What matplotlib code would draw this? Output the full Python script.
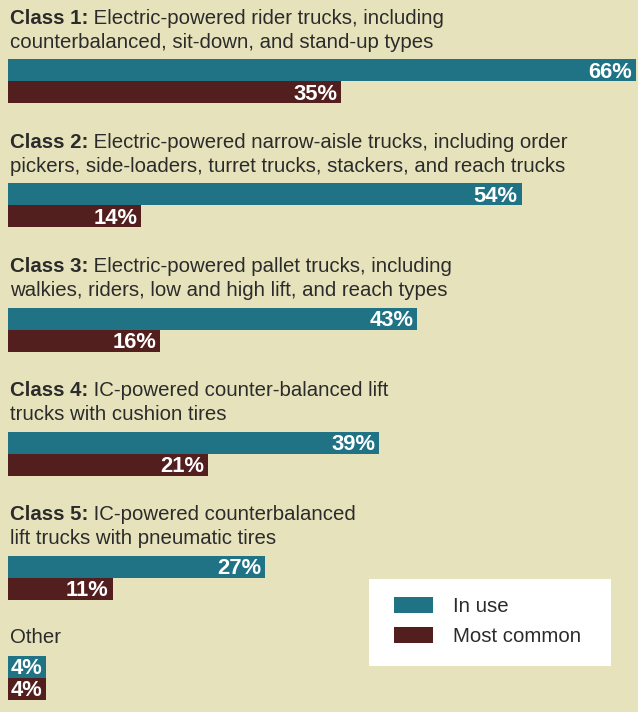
import matplotlib
matplotlib.use("Agg")
import matplotlib.pyplot as plt
from matplotlib.patches import Rectangle

categories_bold = ["Class 1:", "Class 2:", "Class 3:", "Class 4:", "Class 5:", ""]
categories_text = [
    [" Electric-powered rider trucks, including", "counterbalanced, sit-down, and stand-up types"],
    [" Electric-powered narrow-aisle trucks, including order", "pickers, side-loaders, turret trucks, stackers, and reach trucks"],
    [" Electric-powered pallet trucks, including", "walkies, riders, low and high lift, and reach types"],
    [" IC-powered counter-balanced lift", "trucks with cushion tires"],
    [" IC-powered counterbalanced", "lift trucks with pneumatic tires"],
    ["Other"],
]
in_use = [66, 54, 43, 39, 27, 4]
most_common = [35, 14, 16, 21, 11, 4]
series_names = ["In use", "Most common"]

BG = "#e6e2bb"
TEAL = "#1f7385"
MAROON = "#521f1e"
TXT = "#2b2b2b"
FONT = "Liberation Sans"

W, H = 638, 712
fig = plt.figure(figsize=(W / 100, H / 100), dpi=100, facecolor=BG)
ax = fig.add_axes([0, 0, 1, 1])
ax.set_facecolor(BG)
scale = 628 / 66.0
ax.set_xlim(-8 / scale, (W - 8) / scale)
ax.set_ylim(H, 0)
ax.axis("off")

bar_h = 22
teal_tops = [59, 183, 308, 432, 556, 656]
title_base = [[24, 48], [148, 172], [272, 296], [396, 420], [520, 544], [643]]

fig.canvas.draw()
renderer = fig.canvas.get_renderer()


def xp(p):
    return -8 / scale + p / scale


x_text = xp(10)
fs = 14.65

for i in range(len(in_use)):
    top = teal_tops[i]
    ax.barh(top + bar_h / 2, in_use[i], height=bar_h, left=0, color=TEAL, linewidth=0)
    ax.barh(top + bar_h * 1.5, most_common[i], height=bar_h, left=0, color=MAROON, linewidth=0)
    for val, yc in ((in_use[i], top + bar_h / 2), (most_common[i], top + bar_h * 1.5)):
        ax.text(val - 4 / scale, yc + 7.5, f"{val}%", color="white", fontsize=15.8,
                fontweight="bold", ha="right", va="baseline", family=FONT)
    lines = categories_text[i]
    xb = x_text
    if categories_bold[i]:
        t = ax.text(x_text, title_base[i][0], categories_bold[i], fontsize=fs, fontweight="bold",
                    color=TXT, va="baseline", ha="left", family=FONT)
        bb = t.get_window_extent(renderer)
        xb = x_text + bb.width / scale
    ax.text(xb, title_base[i][0], lines[0], fontsize=fs, color=TXT, va="baseline",
            ha="left", family=FONT)
    for j in range(1, len(lines)):
        ax.text(x_text, title_base[i][j], lines[j], fontsize=fs, color=TXT, va="baseline",
                ha="left", family=FONT)

# legend box
ax.add_patch(Rectangle((xp(369), 579), 242 / scale, 87, facecolor="white", edgecolor="none"))
for k, (name, col) in enumerate(zip(series_names, [TEAL, MAROON])):
    yc = 605 + k * 30
    ax.add_patch(Rectangle((xp(394), yc - 8), 39 / scale, 16, facecolor=col, edgecolor="none"))
    ax.text(xp(453), yc + 7, name, fontsize=fs, color=TXT, va="baseline", ha="left",
            family=FONT)

fig.savefig("out.png", dpi=100, facecolor=BG)
